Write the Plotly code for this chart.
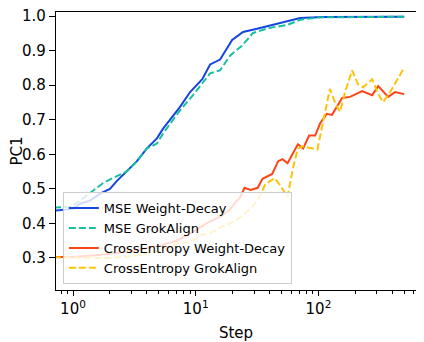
import plotly.graph_objects as go

# values (step on a log axis)
mse_wd_step = [0.7, 1.0, 1.14, 1.38, 1.66, 2.0, 2.28, 2.76, 3.32, 4.0, 4.83, 5.42, 6.53, 7.45,
               9.0, 11.3, 13.1, 15.8, 19.8, 24.3, 31.6, 46, 58.7, 71, 109, 200, 500]
mse_wd_pc1 = [0.437, 0.442, 0.457, 0.466, 0.486, 0.500, 0.523, 0.551, 0.580, 0.617, 0.646, 0.674,
              0.709, 0.737, 0.780, 0.817, 0.860, 0.874, 0.931, 0.954, 0.963, 0.977, 0.985, 0.994,
              0.997, 0.998, 0.998]

mse_ga_step = [0.7, 0.95, 1.14, 1.46, 1.76, 2.28, 2.76, 3.32, 4.0, 4.83, 5.42, 6.53, 7.45, 9.5,
               13.1, 15.8, 19.1, 23.8, 29.3, 40.3, 55.5, 71, 100, 500]
mse_ga_pc1 = [0.446, 0.448, 0.466, 0.494, 0.517, 0.537, 0.551, 0.580, 0.617, 0.631, 0.660, 0.700,
              0.727, 0.771, 0.834, 0.843, 0.886, 0.914, 0.951, 0.966, 0.974, 0.989, 0.996, 0.998]

ce_wd_step = [0.7, 1, 1.5, 2, 3, 4, 5, 7, 9, 11, 13, 16, 19, 21, 23, 25, 28, 32, 35, 42, 47, 51,
              56, 68, 75, 84, 94, 103, 117, 129, 156, 181, 227, 274, 307, 370, 421, 500]
ce_wd_pc1 = [0.303, 0.303, 0.308, 0.312, 0.320, 0.328, 0.335, 0.350, 0.370, 0.390, 0.405, 0.420,
             0.440, 0.460, 0.475, 0.503, 0.497, 0.503, 0.529, 0.543, 0.580, 0.586, 0.574, 0.629,
             0.617, 0.654, 0.654, 0.689, 0.717, 0.714, 0.763, 0.766, 0.783, 0.771, 0.797, 0.766,
             0.780, 0.774]

ce_ga_step = [0.7, 1, 2, 3, 5, 7.5, 9, 11, 13, 16, 19, 23, 28, 32, 37, 44, 49, 56, 62, 68, 75, 98,
              109, 124, 139, 150, 165, 188, 210, 231, 274, 307, 336, 384, 500]
ce_ga_pc1 = [0.302, 0.302, 0.300, 0.305, 0.320, 0.345, 0.346, 0.366, 0.371, 0.389, 0.400, 0.417,
             0.443, 0.466, 0.514, 0.531, 0.509, 0.477, 0.560, 0.617, 0.623, 0.614, 0.694, 0.789,
             0.743, 0.723, 0.780, 0.843, 0.803, 0.794, 0.817, 0.774, 0.751, 0.780, 0.851]

font = "DejaVu Sans"

fig = go.Figure()
fig.add_trace(go.Scatter(x=mse_wd_step, y=mse_wd_pc1, mode="lines", name="MSE Weight-Decay",
                         line=dict(color="#1545e0", width=2)))
fig.add_trace(go.Scatter(x=mse_ga_step, y=mse_ga_pc1, mode="lines", name="MSE GrokAlign",
                         line=dict(color="#18bf9f", width=2, dash="7px,3px")))
fig.add_trace(go.Scatter(x=ce_wd_step, y=ce_wd_pc1, mode="lines", name="CrossEntropy Weight-Decay",
                         line=dict(color="#ff4515", width=2)))
fig.add_trace(go.Scatter(x=ce_ga_step, y=ce_ga_pc1, mode="lines", name="CrossEntropy GrokAlign",
                         line=dict(color="#ffc20a", width=2, dash="7px,3px")))

minor_vals = [0.8, 0.9] + [k for k in range(2, 10)] + [k * 10 for k in range(2, 10)] + [k * 100 for k in range(2, 10)]

# page has an 8px body margin, so the figure is a bit smaller and shifted
fig.update_layout(
    width=408, height=334,
    margin=dict(l=48, r=0, t=4, b=52),
    paper_bgcolor="white", plot_bgcolor="white",
    font=dict(family=font, size=15, color="black"),
    showlegend=True,
    legend=dict(x=0.019, y=0.352, xanchor="left", yanchor="top",
                bgcolor="rgba(255,255,255,0.8)", bordercolor="#cccccc", borderwidth=1,
                font=dict(size=13), tracegroupgap=0),
    xaxis=dict(type="log", range=[-0.1386, 2.795], showgrid=False, zeroline=False, automargin=False,
               showline=True, linecolor="black", linewidth=1.2, mirror=True,
               ticks="outside", ticklen=5, tickcolor="black",
               tickvals=[1, 10, 100], ticktext=["10<sup>0</sup>", "10<sup>1</sup>", "10<sup>2</sup>"],
               minor=dict(ticks="outside", ticklen=3, tickcolor="black", tickvals=minor_vals, showgrid=False),
               title=dict(text="Step", font=dict(size=15), standoff=11)),
    yaxis=dict(range=[0.2074, 1.0116], showgrid=False, zeroline=False, automargin=False,
               showline=True, linecolor="black", linewidth=1.2, ticklabeloverflow="allow",
               ticks="outside", ticklen=6, tickcolor="black",
               tickvals=[0.3, 0.4, 0.5, 0.6, 0.7, 0.8, 0.9, 1.0],
               ticktext=["0.3", "0.4", "0.5", "0.6", "0.7", "0.8", "0.9", "1.0"],
               title=dict(text="PC1", font=dict(size=15), standoff=4)),
)

fig.write_html("out.html")
